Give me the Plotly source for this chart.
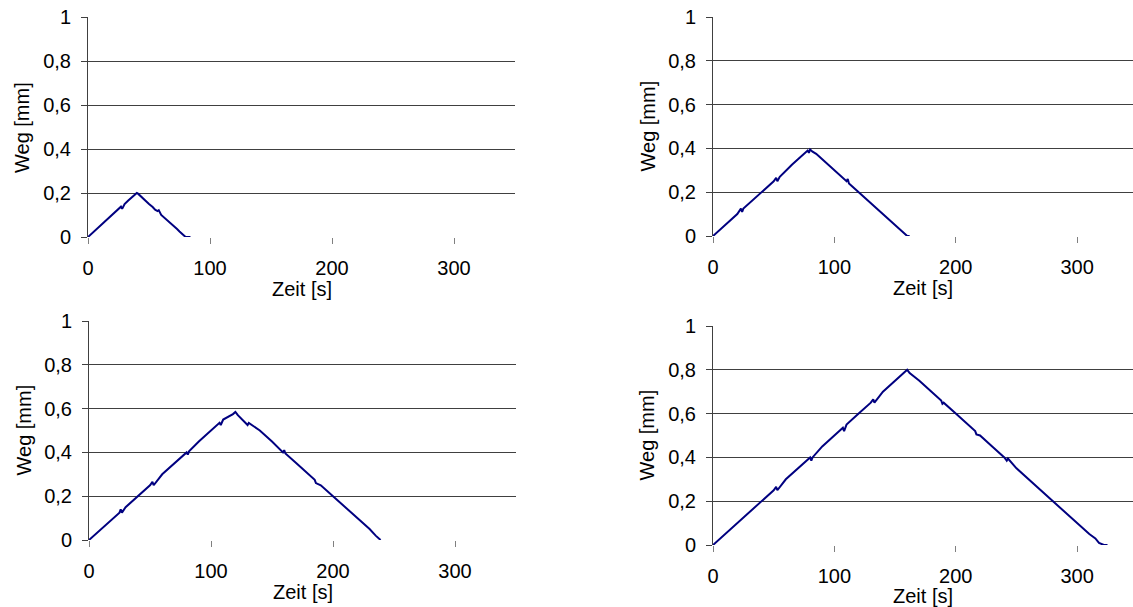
import plotly.graph_objects as go

# Panel 1 (peak ~0.2 mm)
t1 = [0, 2, 5, 8, 10, 13, 15, 18, 20, 23, 25, 27, 28, 30, 33, 35, 38, 40, 41, 43, 45, 48, 50,
      53, 55, 57, 58, 60, 63, 65, 68, 70, 73, 75, 77, 78, 80, 82, 84]
w1 = [0, 0.01, 0.025, 0.04, 0.05, 0.066, 0.075, 0.09, 0.1, 0.116, 0.124, 0.138, 0.128, 0.15,
      0.166, 0.175, 0.19, 0.2, 0.197, 0.186, 0.175, 0.16, 0.15, 0.136, 0.124, 0.118, 0.122,
      0.1, 0.086, 0.075, 0.06, 0.05, 0.036, 0.025, 0.015, 0.012, 0.0, 0, 0]

# Panel 2 (peak ~0.4 mm)
t2 = [0, 5, 10, 15, 20, 23, 24, 25, 30, 35, 40, 45, 50, 52, 53, 55, 60, 65, 70, 75, 78, 79, 80,
      82, 85, 90, 95, 100, 105, 110, 111, 112, 115, 120, 125, 130, 135, 140, 145, 150, 155,
      158, 160, 162]
w2 = [0, 0.025, 0.05, 0.075, 0.1, 0.125, 0.11, 0.125, 0.15, 0.175, 0.2, 0.225, 0.25, 0.265,
      0.25, 0.27, 0.3, 0.325, 0.35, 0.375, 0.39, 0.38, 0.395, 0.385, 0.375, 0.35, 0.325, 0.3,
      0.275, 0.25, 0.26, 0.24, 0.225, 0.2, 0.175, 0.15, 0.125, 0.1, 0.075, 0.05, 0.025, 0.01,
      0, 0]

# Panel 3 (peak ~0.6 mm)
t3 = [0, 10, 20, 25, 26, 27, 30, 40, 50, 52, 53, 60, 70, 80, 81, 82, 90, 100, 107, 108, 110,
      118, 120, 122, 130, 131, 140, 150, 159, 160, 161, 170, 180, 185, 186, 190, 200, 210,
      220, 230, 235, 237, 239]
w3 = [0, 0.05, 0.1, 0.125, 0.14, 0.125, 0.15, 0.2, 0.25, 0.265, 0.25, 0.3, 0.35, 0.4, 0.39,
      0.405, 0.45, 0.5, 0.535, 0.525, 0.55, 0.575, 0.585, 0.57, 0.525, 0.535, 0.5, 0.45, 0.4,
      0.41, 0.395, 0.35, 0.3, 0.275, 0.26, 0.25, 0.2, 0.15, 0.1, 0.05, 0.02, 0.01, 0]

# Panel 4 (peak ~0.8 mm)
t4 = [0, 10, 20, 30, 40, 50, 52, 53, 60, 70, 80, 81, 82, 90, 100, 107, 108, 110, 120, 130,
      132, 133, 140, 150, 158, 160, 162, 170, 180, 188, 189, 190, 200, 210, 216, 217, 220,
      230, 240, 242, 243, 250, 260, 270, 280, 290, 300, 310, 315, 318, 322, 325]
w4 = [0, 0.05, 0.1, 0.15, 0.2, 0.25, 0.265, 0.25, 0.3, 0.35, 0.4, 0.385, 0.4, 0.45, 0.5, 0.535,
      0.52, 0.55, 0.6, 0.65, 0.665, 0.65, 0.7, 0.75, 0.79, 0.8, 0.785, 0.75, 0.7, 0.66, 0.645,
      0.65, 0.6, 0.55, 0.52, 0.505, 0.5, 0.45, 0.4, 0.385, 0.395, 0.35, 0.3, 0.25, 0.2, 0.15,
      0.1, 0.05, 0.03, 0.01, 0, 0]

y_ticks = [0, 0.2, 0.4, 0.6, 0.8, 1]
y_ticklabels = ["0", "0,2", "0,4", "0,6", "0,8", "1"]
x_ticks = [0, 100, 200, 300]
x_label = "Zeit [s]"
y_label = "Weg [mm]"

W, H = 1133, 607
# plot areas in pixels: (left, right, top, bottom, xmax, x-title offset)
panels = [
    (t1, w1, (88, 515, 17, 237, 350, 52)),
    (t2, w2, (713, 1133, 17, 236, 346, 52)),
    (t3, w3, (89, 516, 321, 540, 350, 52)),
    (t4, w4, (713, 1133, 326, 545, 346, 51)),
]

FONT = "Liberation Sans, Arial, sans-serif"
FS = 20
fig = go.Figure()
annotations = []
for i, (t, w, (l, r, top, bot, xmax, toff)) in enumerate(panels, start=1):
    xa = "x" if i == 1 else f"x{i}"
    ya = "y" if i == 1 else f"y{i}"
    fig.add_trace(go.Scatter(x=t, y=w, mode="lines", xaxis=xa, yaxis=ya,
                             line=dict(color="#000080", width=2), showlegend=False))
    xkey = "xaxis" if i == 1 else f"xaxis{i}"
    ykey = "yaxis" if i == 1 else f"yaxis{i}"
    fig.update_layout({
        xkey: dict(domain=[l / W, r / W], range=[0, xmax], anchor=ya, automargin=False,
                   tickvals=x_ticks, ticks="outside", ticklen=6, tickcolor="#808080",
                   ticklabelstandoff=7,
                   showgrid=False, zeroline=False, showline=False,
                   tickfont=dict(family=FONT, size=FS, color="black")),
        ykey: dict(domain=[1 - bot / H, 1 - top / H], range=[0, 1], anchor=xa, automargin=False,
                   tickvals=y_ticks, ticktext=y_ticklabels, ticks="outside", ticklen=6,
                   ticklabelstandoff=6,
                   tickcolor="#404040", showgrid=True, gridcolor="#404040", gridwidth=1,
                   zeroline=False, showline=True, linecolor="#404040", linewidth=1,
                   tickfont=dict(family=FONT, size=FS, color="black")),
    })
    annotations.append(dict(text=x_label, xref="paper", yref="paper",
                            x=(l + r) / 2 / W, y=1 - (bot + toff) / H,
                            xanchor="center", yanchor="middle", showarrow=False,
                            font=dict(family=FONT, size=FS, color="black")))
    annotations.append(dict(text=y_label, xref="paper", yref="paper",
                            x=(l - 66) / W, y=1 - (top + bot) / 2 / H, textangle=-90,
                            xanchor="center", yanchor="middle", showarrow=False,
                            font=dict(family=FONT, size=FS, color="black")))

fig.update_layout(width=W, height=H, margin=dict(l=0, r=0, t=0, b=0),
                  paper_bgcolor="white", plot_bgcolor="white", annotations=annotations)
fig.write_html("out.html", config={"displayModeBar": False},
               post_script="document.body.style.margin='0';document.body.style.overflow='hidden';")
